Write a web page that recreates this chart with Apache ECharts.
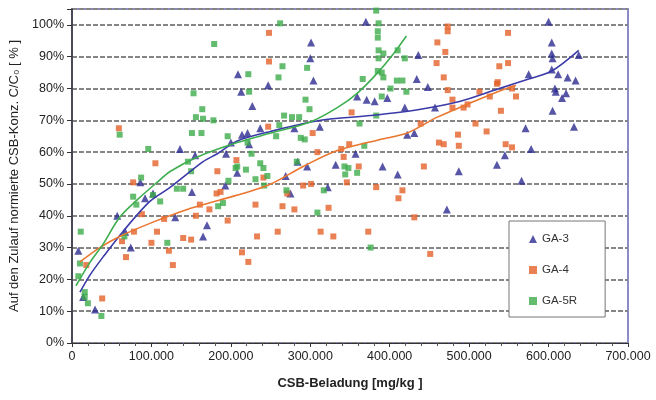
<!DOCTYPE html>
<html>
<head>
<meta charset="utf-8">
<script src="https://cdn.jsdelivr.net/npm/echarts@6/dist/echarts.min.js"></script>
<style>
  html, body { margin: 0; padding: 0; background: #fff; }
  #chart { width: 656px; height: 400px; }
</style>
</head>
<body>
<div id="chart"></div>
<script>
// Messpunkte [CSB-Beladung mg/kg, C/C0 in %]
const ga3Points = [
  [8000,29],[14000,14.5],[29000,10.5],[57000,40],[67000,35],[74000,30],[86000,50.5],[92000,45.5],
  [102000,47],[130000,39.5],[136000,61],[151000,47.5],[155000,59],[165000,33.5],[170000,37],
  [193000,49.5],[194000,59.5],[200000,63],[208000,53.5],[209000,84.5],[213000,79],[214000,65.5],
  [221000,66],[223000,62.5],[227000,74.5],[237000,67.5],[247000,81],[269000,52.5],[275000,47],
  [280000,67.5],[284000,57],[296000,55.5],[300000,89.5],[301000,94.5],[304000,82.5],[312000,68],
  [322000,49],[332000,56],[357000,59.5],[359000,77.5],[370000,101],[371000,76.5],[381000,76],
  [391000,55.5],[397000,77],[410000,53],[419000,74],[422000,65.5],[431000,66],[434000,83],
  [436000,90.5],[448000,80.5],[457000,74],[472000,42],[487000,54],[535000,56],[545000,59],
  [566000,51],[571000,67.5],[575000,84.5],[578000,61],[600000,101],[604000,94.5],[604000,91],
  [605000,89.5],[604000,86],[605000,73],[608000,80],[609000,79],[612000,84.5],[617000,77],
  [622000,78.5],[624000,83.5],[632000,68],[634000,82.5],[638000,90.5]
]

const ga4Points = [
  [18000,24.5],[38000,14],[59000,67.5],[63000,32],[68000,27],[77000,50.5],[78000,35],[88000,40.5],
  [100000,31.5],[105000,56.5],[107000,35],[116000,39],[122000,29],[127000,24.5],[140000,33],
  [150000,32.5],[156000,40],[161000,43.5],[173000,42],[182000,47],[183000,54],[187000,47.5],
  [196000,38.5],[207000,57.5],[214000,28.5],[222000,25.5],[231000,43.5],[233000,33.5],[241000,52],
  [247000,68],[248000,97.5],[248000,88.5],[259000,35],[265000,43],[271000,47],[280000,42],
  [291000,49.5],[301000,50],[303000,66],[309000,60],[313000,35],[323000,42.5],[329000,33.5],
  [339000,61],[342000,58.5],[346000,50.5],[349000,62.5],[352000,72.5],[361000,55.5],[373000,35],
  [383000,49],[411000,45.5],[416000,48],[431000,39.5],[439000,69],[443000,55.5],[451000,28],
  [459000,88],[460000,94.5],[462000,63],[468000,62.5],[468000,83.5],[470000,91.5],[473000,99.5],
  [473000,98],[473000,79.5],[479000,76.5],[479000,74],[486000,65.5],[487000,62],[493000,74],
  [498000,75],[508000,69],[513000,79],[522000,66.5],[526000,77.5],[535000,81.5],[536000,82],
  [538000,87],[540000,73],[546000,62.5],[549000,97.5],[549000,88],[554000,80],[554000,61.5],
  [559000,77.5]
]

const ga5rPoints = [
  [8000,21],[10000,25],[11000,35],[16000,16],[16000,14.5],[20000,12.5],[37000,8.5],[60000,65.5],
  [66000,33.5],[77000,46],[81000,43.5],[87000,52],[96000,61],[102000,46.5],[111000,44.5],
  [120000,31.5],[132000,48.5],[140000,48.5],[146000,57],[150000,54],[151000,66],[153000,78.5],
  [156000,71],[164000,73.5],[165000,70.5],[163000,66],[178000,70],[179000,94],[184000,43],
  [190000,44],[196000,65],[197000,51],[206000,55],[208000,55.5],[219000,54.5],[221000,63],
  [222000,84.5],[223000,79],[226000,59.5],[231000,51.5],[237000,56.5],[241000,55],[242000,49.5],
  [246000,52.5],[257000,65],[260000,83.5],[262000,100.5],[265000,87],[261000,68.5],[267000,71.5],
  [277000,71],[286000,71],[270000,48],[283000,57],[288000,64.5],[293000,64],[294000,76.5],
  [296000,86.5],[299000,73.5],[309000,41],[317000,48],[343000,55.5],[344000,53],[348000,55],
  [359000,53.5],[362000,69],[366000,83],[368000,62],[376000,30],[383000,104.5],[385000,98],
  [385000,96],[386000,100.5],[386000,92],[386000,89.5],[385000,85.5],[390000,85],[392000,91],
  [392000,83.5],[383000,71.5],[390000,77.5],[401000,80],[409000,82.5],[410000,92],[416000,82.5],
  [419000,89.5],[421000,79]
]

// Trendlinien
const ga3Trend = [
  [10000,16],[23000,21.5],[39000,27],[64000,35],[98000,44.5],[124000,49],[165000,57],[183000,59.5],
  [208000,63.5],[250000,66.5],[313000,70],[376000,71.5],[439000,73.5],[489000,76],[532000,79.5],
  [575000,83],[604000,85.5],[638000,92]
]
const ga4Trend = [
  [10000,25.5],[35000,30],[60000,33.5],[102000,38],[145000,42],[187000,45],[246000,49.5],
  [291000,55.5],[334000,60.5],[388000,64],[422000,66],[460000,71],[502000,75.5],[536000,79],[559000,81]
]
const ga5rTrend = [
  [5000,18],[23000,25.5],[39000,31],[60000,39.5],[82000,45],[107000,50.5],[124000,54],[158000,58.5],
  [208000,63],[250000,66],[300000,69.5],[334000,74],[359000,78.5],[385000,85],[405000,91],[421000,96.5]
]

const seriesNames = ['GA-3', 'GA-4', 'GA-5R']

const chart = echarts.init(document.getElementById('chart'))
const fontFamily = '"Liberation Sans", Arial, sans-serif'

const option = {
  animation: false,
  textStyle: { fontFamily: fontFamily },
  grid: {
    left: 72, right: 28, top: 9, bottom: 57,
    show: true,
    borderColor: '#8c8cc8',
    borderWidth: 2,
  },
  legend: {
    data: seriesNames,
    orient: 'vertical',
    left: 509,
    top: 221,
    backgroundColor: '#fff',
    borderColor: '#777',
    borderWidth: 1,
    padding: [12, 28, 10, 20],
    itemGap: 19,
    itemWidth: 8,
    itemHeight: 8,
    textStyle: { fontSize: 11.5, color: '#333' },
  },
  xAxis: {
    type: 'value',
    min: 0,
    max: 700000,
    interval: 100000,
    name: 'CSB-Beladung [mg/kg ]',
    nameLocation: 'middle',
    nameGap: 34,
    nameTextStyle: { fontSize: 13, fontWeight: 'bold', color: '#222' },
    axisLine: { onZero: false, lineStyle: { color: '#333', width: 1 } },
    axisTick: { length: 4, lineStyle: { color: '#333' } },
    minorTick: { show: true, splitNumber: 5, length: 3, lineStyle: { color: '#555' } },
    splitLine: { show: false },
    axisLabel: {
      fontSize: 12.5,
      color: '#222',
      margin: 7,
      formatter: function (v) {
        return v === 0 ? '0' : (v / 1000) + '.000'
      },
    },
  },
  yAxis: {
    type: 'value',
    min: 0,
    max: 105,
    interval: 10,
    name: 'Auf den Zulauf normierte CSB-Konz. C/C₀ [ % ]',
    nameLocation: 'middle',
    nameRotate: 90,
    nameGap: 47,
    nameTextStyle: { fontSize: 13, color: '#222' },
    axisLine: { show: true, lineStyle: { color: '#333', width: 1.5 } },
    axisTick: { show: true, length: 5, lineStyle: { color: '#333' } },
    splitLine: {
      show: true,
      lineStyle: { color: '#858585', width: 2, type: [5, 2] },
    },
    axisLabel: {
      fontSize: 12.5,
      color: '#222',
      margin: 8,
      formatter: function (v) {
        return v > 100 ? '' : v + '%'
      },
    },
  },
  series: [
    {
      name: 'GA-3', type: 'scatter', symbol: 'triangle', symbolSize: 8,
      itemStyle: { color: '#2d2a8e' }, data: ga3Points,
    },
    {
      name: 'GA-4', type: 'scatter', symbol: 'rect', symbolSize: 6,
      itemStyle: { color: '#e3622b' }, data: ga4Points,
    },
    {
      name: 'GA-5R', type: 'scatter', symbol: 'rect', symbolSize: 6,
      itemStyle: { color: '#3dab4b' }, data: ga5rPoints,
    },
    {
      name: 'Trend GA-3', type: 'line', smooth: 0.3, showSymbol: false,
      lineStyle: { color: '#3b3aa8', width: 1.6 }, data: ga3Trend,
    },
    {
      name: 'Trend GA-4', type: 'line', smooth: 0.3, showSymbol: false,
      lineStyle: { color: '#ea762f', width: 1.6 }, data: ga4Trend,
    },
    {
      name: 'Trend GA-5R', type: 'line', smooth: 0.3, showSymbol: false,
      lineStyle: { color: '#3fae4f', width: 1.6 }, data: ga5rTrend,
    },
  ],
}

chart.setOption(option)
</script>
</body>
</html>
